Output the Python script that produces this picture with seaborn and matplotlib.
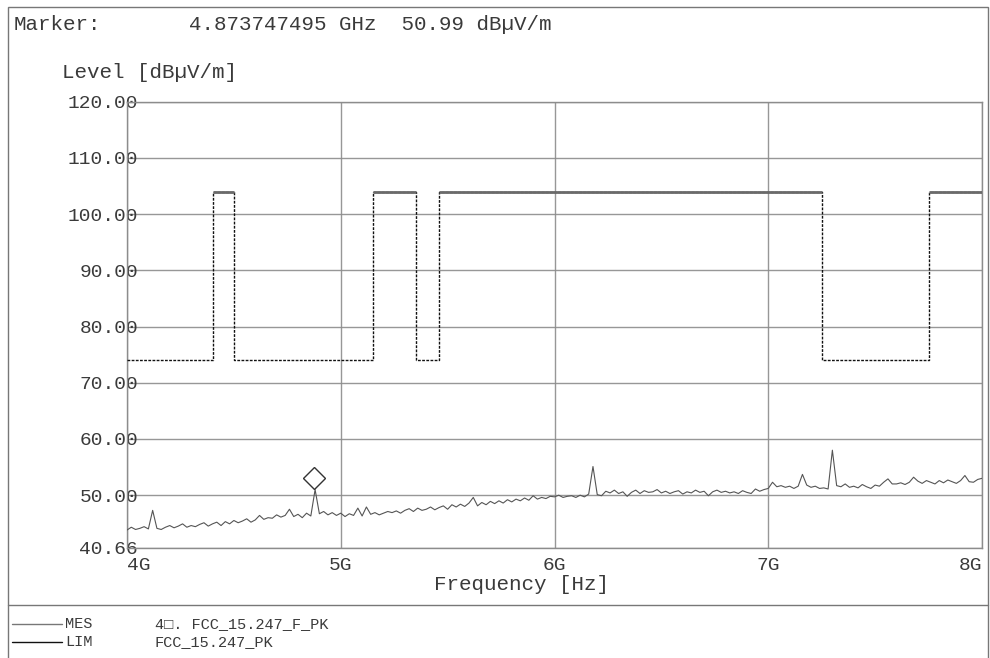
import numpy as np
import pandas as pd
import matplotlib
matplotlib.use("Agg")
import matplotlib.pyplot as plt
import matplotlib.transforms as mtransforms
from matplotlib.lines import Line2D
from matplotlib.patches import Rectangle
import seaborn as sns

# ---------------- data ----------------
freq_start_ghz = 4.0
freq_stop_ghz = 8.0
freq_step_ghz = 0.02

mes_level = [
    43.8, 44.3, 43.9, 44.1, 44.4, 44.0, 47.3, 44.1, 43.9, 44.3,
    44.6, 44.2, 44.5, 44.9, 44.3, 44.6, 44.4, 44.8, 45.1, 44.5,
    44.9, 45.2, 44.6, 45.3, 44.9, 45.5, 45.1, 45.4, 45.8, 45.2,
    45.6, 46.4, 45.7, 46.0, 45.9, 46.5, 46.1, 46.4, 47.5, 46.2,
    46.6, 46.0, 46.8, 46.3, 50.99, 46.7, 47.1, 46.5, 46.9, 46.4,
    46.8, 46.2, 46.7, 46.4, 47.7, 46.3, 47.9, 46.6, 46.9, 46.5,
    46.8, 47.1, 46.9, 47.2, 46.8, 47.3, 47.6, 47.1, 47.7, 47.3,
    47.5, 47.9, 47.4, 47.8, 48.1, 47.5, 48.3, 47.9, 48.4, 48.0,
    48.6, 49.6, 48.1, 48.7, 48.3, 48.9, 48.5, 49.0, 48.6, 49.2,
    48.8, 49.3, 49.0, 49.5, 49.1, 49.9, 49.3, 49.6, 49.4, 49.8,
    49.7, 50.0, 49.6, 49.8, 49.9, 49.6, 50.0, 49.7, 50.2, 55.1,
    50.1, 49.9, 50.7, 50.4, 50.9, 50.3, 50.6, 49.8, 50.5, 50.9,
    50.3, 50.8, 50.5, 50.6, 51.0, 50.4, 50.7, 50.3, 50.6, 50.8,
    50.2, 50.6, 50.4, 50.9, 50.5, 50.7, 49.9, 50.6, 50.9, 50.5,
    50.7, 50.4, 50.6, 50.3, 50.8, 50.5, 50.3, 51.1, 50.7, 51.0,
    51.2, 52.3, 51.5, 51.7, 51.4, 51.6, 51.2, 51.6, 53.7, 51.8,
    51.4, 51.6, 51.2, 51.3, 51.1, 58.0, 51.7, 51.5, 52.0, 51.4,
    51.6, 51.3, 51.9, 51.5, 51.2, 51.8, 51.6, 52.3, 52.9, 52.0,
    52.0, 52.2, 51.9, 52.3, 53.2, 52.5, 52.1, 52.6, 52.3, 52.0,
    52.6, 52.2, 52.7, 52.4, 52.1, 52.6, 53.5, 52.4, 52.3, 52.8,
    53.0,
]

limit_edges_ghz = [4.0, 4.4, 4.5, 5.15, 5.35, 5.46, 7.25, 7.75, 8.0]
limit_level = [74, 104, 74, 104, 74, 104, 74, 104, 104]

marker_freq_ghz = 4.873747495
marker_level = 50.99

y_ticks = [40.66, 50, 60, 70, 80, 90, 100, 110, 120]
x_ticks = [4, 5, 6, 7, 8]
x_tick_labels = ["4G", "5G", "6G", "7G", "8G"]

header_marker = "Marker:"
header_value = "4.873747495 GHz  50.99 dBµV/m"
y_title = "Level [dBµV/m]"
x_title = "Frequency [Hz]"
legend_names = ["MES", "LIM"]
legend_desc = ["4□. FCC_15.247_F_PK", "FCC_15.247_PK"]

# ---------------- style ----------------
sns.set_theme(style="white")
FONT = ["Liberation Mono", "DejaVu Sans Mono"]
plt.rcParams["font.family"] = FONT
TXT = "#3a3a3a"
GRID = "#8c8c8c"

W, H = 990, 658
fig = plt.figure(figsize=(9.9, 6.58), dpi=100)
fig.patch.set_facecolor("white")

left, right, top, bottom = 127, 982, 101.6, 547.7
ax = fig.add_axes([left / W, 1 - bottom / H, (right - left) / W, (bottom - top) / H])
ax.set_facecolor("white")

n = len(mes_level)
freq = freq_start_ghz + freq_step_ghz * np.arange(n)
df = pd.DataFrame({"freq": freq, "level": mes_level})

# grid
ax.set_xlim(freq_start_ghz, freq_stop_ghz)
ax.set_ylim(y_ticks[0], y_ticks[-1])
ax.set_xticks(x_ticks)
ax.set_xticklabels(x_tick_labels)
ax.set_yticks(y_ticks)
ax.set_yticklabels([f"{v:.2f}" for v in y_ticks])
ax.grid(True, color=GRID, lw=1.0, alpha=0.9)
ax.set_axisbelow(True)
for s in ax.spines.values():
    s.set_color(GRID)
    s.set_linewidth(1.0)

# limit line: dashed steps plus solid upper segments
lim_df = pd.DataFrame({"freq": limit_edges_ghz, "level": limit_level})
sns.lineplot(data=lim_df, x="freq", y="level", ax=ax, drawstyle="steps-post",
             color="#111111", lw=1.0, linestyle=(0, (2.0, 1.0)),
             sort=False, estimator=None, zorder=3)
for i in range(len(limit_edges_ghz) - 1):
    if limit_level[i] == max(limit_level):
        ax.plot([limit_edges_ghz[i], limit_edges_ghz[i + 1]],
                [limit_level[i], limit_level[i]], color="#6a6a6a", lw=2.0,
                solid_capstyle="butt", zorder=4)

# measurement trace
sns.lineplot(data=df, x="freq", y="level", ax=ax, color="#555555", lw=0.8,
             sort=False, estimator=None, zorder=5)

# marker diamond sitting on the peak
off = mtransforms.offset_copy(ax.transData, fig=fig, x=0, y=12, units="dots")
ax.plot([marker_freq_ghz], [marker_level], marker="D", ms=11.5, mfc="white",
        mec="#333333", mew=1.0, transform=off, zorder=6, clip_on=False)

ax.set_xlabel("")
ax.set_ylabel("")
ax.tick_params(axis="y", length=0, pad=-8, labelsize=14, labelcolor=TXT)
ax.tick_params(axis="x", length=0, pad=7, labelsize=14, labelcolor=TXT)
xl = ax.get_xticklabels()
xl[0].set_ha("left")
xl[-1].set_ha("right")
for t in ax.get_yticklabels():
    t.set_zorder(10)

# header texts
def fy(y):
    return 1 - y / H

fig.text(14 / W, fy(24), header_marker, fontsize=15, color=TXT, va="center", ha="left")
fig.text(189 / W, fy(24), header_value, fontsize=15, color=TXT, va="center", ha="left")
fig.text(62 / W, fy(72), y_title, fontsize=15, color=TXT, va="center", ha="left")
fig.text(522 / W, fy(584), x_title, fontsize=15, color=TXT, va="center", ha="center")

# legend block
legend_y = [624, 642]
legend_colors = ["#777777", "#111111"]
for yy, name, desc, c in zip(legend_y, legend_names, legend_desc, legend_colors):
    fig.add_artist(Line2D([12 / W, 62 / W], [fy(yy), fy(yy)], color=c, lw=1.0))
    fig.text(65 / W, fy(yy), name, fontsize=11, color=TXT, va="center", ha="left")
    fig.text(155 / W, fy(yy), desc, fontsize=11, color=TXT, va="center", ha="left")

# outer frame and separator
fig.add_artist(Rectangle((8 / W, -0.01), (988 - 8) / W, fy(7) + 0.01,
                         fill=False, edgecolor="#777777", lw=1.0))
fig.add_artist(Line2D([8 / W, 988 / W], [fy(605), fy(605)], color="#777777", lw=1.0))

fig.savefig("out.png", dpi=100, facecolor="white")
